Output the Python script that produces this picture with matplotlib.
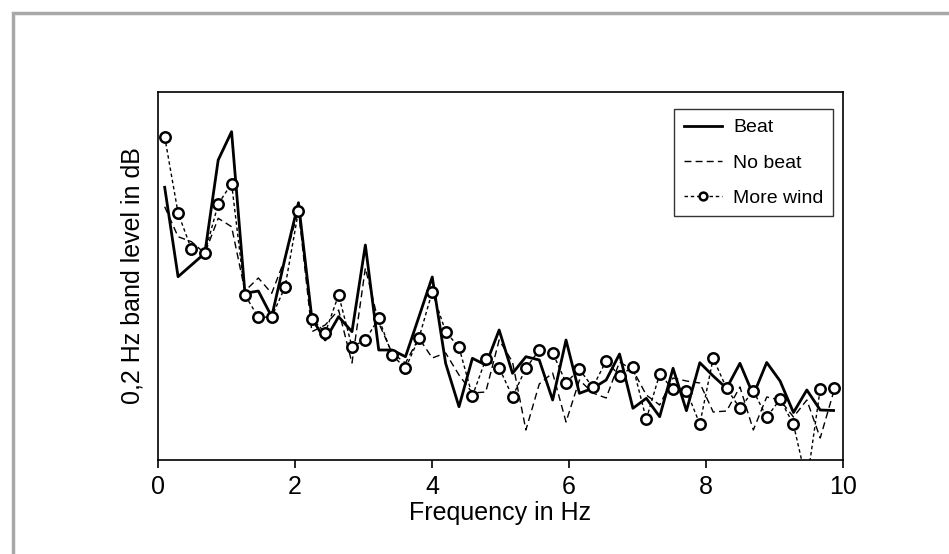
import numpy as np
import matplotlib
matplotlib.use("Agg")
import matplotlib.pyplot as plt
from matplotlib.patches import Rectangle

plt.rcParams['font.family'] = ['Liberation Sans', 'DejaVu Sans']

# 0.2 Hz bands (bin width ~0.195 Hz), centre frequencies
freq = 0.1953 * (np.arange(51) + 0.5)

# band level (arbitrary dB scale)
beat = [272.7, 183.3, 195, 206.7, 300, 328.3, 166.7, 169, 143.3, 202,
        257.3, 141.7, 120, 143.3, 128.3, 215, 110, 110, 103.3, 143,
        183, 96.7, 53.3, 101.7, 95, 130, 86.7, 103.3, 100, 60,
        120, 66.7, 71.7, 80, 106, 51.7, 61.7, 43.3, 91.7, 49.3,
        97.3, 84, 71.7, 96.7, 65, 97.5, 79, 47.5, 70, 50,
        49.5]
no_beat = [253.3, 223.3, 218.3, 206.7, 241.7, 233.3, 169, 182, 166.7, 201.7,
           250, 128.3, 135, 150, 97, 192, 137, 107, 97, 122,
           102, 107, 85, 67, 68, 120, 98, 30, 76, 87,
           38, 80, 67, 62, 98, 90, 65, 55, 82, 79,
           77, 48, 49, 73, 30, 63, 60, 43, 60, 22,
           68]
more_wind = [323.3, 247, 210.7, 206.7, 256, 276.5, 165, 142.7, 143, 173.3,
             249, 141.5, 127.3, 165, 113.3, 120, 141.7, 105, 91.7, 121.7,
             168.3, 128.3, 112.7, 64, 100.7, 92.2, 63.3, 91.7, 110, 107.3,
             77.3, 90.7, 72.7, 99.3, 84, 93.3, 40.7, 86, 70.7, 69.3,
             36, 101.7, 71.7, 51.7, 69.3, 42.7, 60.7, 35.7, -23, 71,
             72.3]

fig = plt.figure(figsize=(9.49, 5.54), dpi=100)
# grey frame (only top and left edges visible)
fig.patches.append(Rectangle((13/949, -0.1), 1.2, 1.1 - 13/554,
                             transform=fig.transFigure, fill=False,
                             edgecolor='#a8a8a8', linewidth=2.5))

ax = fig.add_axes([158/949, 1 - 460/554, (843 - 158)/949, (460 - 92)/554])

ax.plot(freq, beat, color='black', lw=2.0, label='Beat')
ax.plot(freq, no_beat, color='black', lw=1.0, dashes=(5, 3), label='No beat')
ax.plot(freq, more_wind, color='black', lw=1.0, dashes=(2.5, 2),
        marker='o', ms=7.5, mfc='white', mec='black', mew=1.8,
        label='More wind')

ax.set_xlim(0, 10)
ax.set_ylim(0, 368)
ax.set_xticks([0, 2, 4, 6, 8, 10])
ax.set_yticks([])
ax.tick_params(axis='x', direction='out', length=6, width=1.2, labelsize=18, pad=5)
for s in ax.spines.values():
    s.set_linewidth(1.2)

ax.set_xlabel('Frequency in Hz', fontsize=18, labelpad=1)
ax.set_ylabel('0,2 Hz band level in dB', fontsize=18, labelpad=10)

leg = ax.legend(loc='upper right', bbox_to_anchor=(1.0, 0.98), fontsize=14,
                frameon=True, fancybox=False, handlelength=2.0,
                labelspacing=0.9, borderpad=0.5, handletextpad=0.55,
                markerscale=0.75)
leg.get_frame().set_edgecolor('black')
leg.get_frame().set_linewidth(1.0)

fig.savefig('out.png', dpi=100)
